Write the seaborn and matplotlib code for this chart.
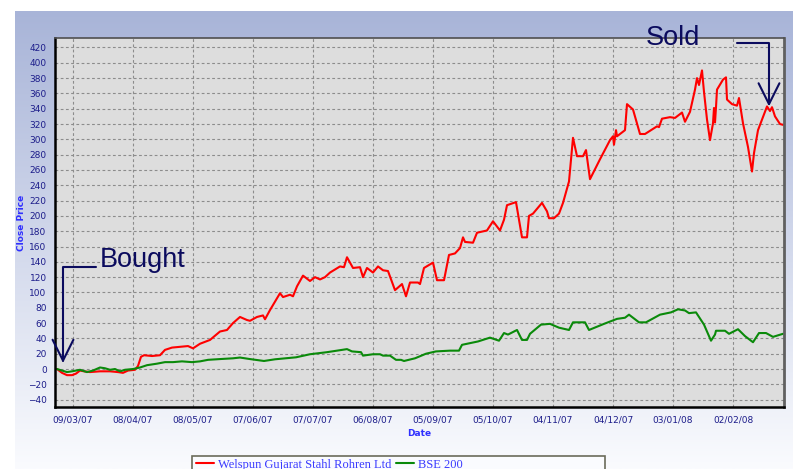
import numpy as np
import pandas as pd
import matplotlib
matplotlib.use("Agg")
import matplotlib.pyplot as plt
import matplotlib.dates as mdates
from matplotlib.patches import Rectangle
from matplotlib.ticker import AutoMinorLocator, FixedLocator
import seaborn as sns

# Data (days counted from start_date)
start_date = "2007-03-01"

welspun_days = [0, 2.5, 5, 7.5, 9.5, 11.5, 13.5, 16.5, 21.5, 26.5, 30.5, 33, 35.5, 39, 40.5, 42, 43.5,
                47.5, 51.5, 54, 57.5, 61.5, 65.5, 68, 71.5, 76.5, 81.5, 85, 88, 91.5, 95, 96.5, 100,
                103, 104, 106.5, 109, 111.5, 113, 116.5, 118, 120, 123, 126.5, 129, 131.5, 134, 136.5,
                139, 141.5, 143.5, 145, 148, 151.5, 153, 155, 158, 160.5, 163, 165.5, 169, 172.5, 174.5,
                176.5, 180.5, 181.5, 183.5, 188, 190, 193.5, 196, 199, 201.5, 203, 204, 208, 210, 215,
                218, 221.5, 223.5, 225, 229.5, 232.5, 235, 236, 238, 242.5, 245, 246, 248.5, 251, 253,
                256, 258, 260, 263, 264.5, 266.5, 271.5, 276.5, 278, 278.5, 279.5, 280, 284, 285, 288,
                291.5, 294, 300, 301, 302.5, 306.5, 309, 312.5, 314, 316.5, 319, 320, 321, 322.5, 323.5,
                325, 326.5, 328, 328.5, 329, 329.5, 330, 333, 334.5, 335, 337.5, 340, 341, 343, 345.5,
                347.5, 348.5, 350.5, 355, 356.5, 357.5, 359, 361.5, 363]
welspun_close = [0, -5, -8, -8, -6, -2, -3, -4, -3, -3, -4, -5, -2, -1, 4, 16, 18,
                 17, 18, 25, 28, 29, 30, 27, 33, 38, 49, 51, 60, 68, 64, 63, 68,
                 70, 65, 77, 88, 99, 94, 97, 95, 108, 122, 115, 120, 117, 120, 126,
                 130, 134, 133, 146, 132, 133, 120, 132, 126, 134, 129, 128, 103, 111, 95,
                 113, 113, 111, 132, 139, 116, 116, 149, 151, 158, 172, 166, 165, 178, 181,
                 193, 181, 195, 214, 218, 172, 172, 200, 203, 217, 206, 197, 197, 203, 217,
                 245, 302, 278, 278, 286, 248, 274, 299, 304, 293, 312, 304, 312, 346, 339,
                 307, 307, 317, 316, 327, 329, 328, 335, 323, 336, 365, 380, 371, 390, 362,
                 326, 299, 321, 341, 322, 342, 365, 378, 381, 352, 346, 344, 354, 321, 290,
                 258, 282, 312, 343, 337, 342, 330, 320, 319]

bse_days = [0, 2.5, 5, 7.5, 11.5, 15, 18, 21.5, 24, 26.5, 29, 31.5, 34, 38, 41.5, 45, 50, 54, 58,
            62.5, 67.5, 71.5, 75.5, 81.5, 88, 91.5, 96.5, 103.5, 109, 119.5, 126.5, 135, 145, 147.5,
            152, 153, 158, 161.5, 163, 166.5, 169.5, 172, 173.5, 179, 184.5, 189.5, 196.5, 201,
            202.5, 210.5, 216.5, 221, 223.5, 225.5, 230, 232.5, 235, 236.5, 242, 246.5, 251, 256,
            258, 264, 266, 273.5, 280, 284, 286, 291, 294.5, 301.5, 307, 310.5, 314, 316, 319.5,
            323.5, 327, 329, 329.5, 334, 336, 340.5, 344, 348, 351, 354.5, 358, 363]
bse_close = [0, -2, -4, -3, -1, -4, -2, 2, 1, -1, 0, -3, -1, 0, 2, 5, 7, 9, 9,
             10, 9, 10, 12, 13, 14, 15, 13, 10.5, 12.7, 15.3, 19.3, 22, 26, 23,
             22, 17.5, 19.3, 19.3, 17.5, 17.5, 12, 12, 10.5, 14, 20, 23, 24, 24,
             31.6, 36, 41, 37, 47, 45, 51, 38, 38, 46, 58, 59, 54, 51,
             61, 61, 51, 59, 65.5, 67, 71, 61, 61, 71, 74, 78, 76.5, 73, 74,
             58, 37, 45, 50, 50, 46, 52, 43, 35, 47, 47, 42, 46]

date_ticks = ["09/03/07", "08/04/07", "08/05/07", "07/06/07", "07/07/07", "06/08/07",
              "05/09/07", "05/10/07", "04/11/07", "04/12/07", "03/01/08", "02/02/08"]
y_ticks = list(range(-40, 421, 20))

buy_date, buy_value = "2007-03-04", 8
sell_date, sell_value = "2008-02-20", 343

sns.set_style("white")
plt.rcParams["font.family"] = ["DejaVu Sans"]

start = pd.Timestamp(start_date)
welspun = pd.DataFrame({"Date": start + pd.to_timedelta(welspun_days, unit="D"),
                        "Close": welspun_close})
bse = pd.DataFrame({"Date": start + pd.to_timedelta(bse_days, unit="D"),
                    "Close": bse_close})

W, H = 793, 469
fig = plt.figure(figsize=(W / 100, H / 100), dpi=100)
fig.patch.set_facecolor("white")

# blue-to-white backdrop behind the chart
bg = fig.add_axes([15 / W, 0, 1 - 15 / W, 1 - 11 / H], zorder=-2)
top_c = np.array([168, 180, 216]) / 255
bot_c = np.array([250, 251, 254]) / 255
t = np.linspace(0, 1, 256)[:, None]
grad = top_c * (1 - t) + bot_c * t
bg.imshow(grad[:, None, :], aspect="auto", extent=[0, 1, 0, 1])
bg.axis("off")

ax = fig.add_axes([55 / W, 1 - 407.3 / H, 729 / W, 369 / H])
ax.set_facecolor("#dddddd")

sns.lineplot(data=welspun, x="Date", y="Close", color="#ff0000", lw=1.5,
             label="Welspun Gujarat Stahl Rohren Ltd", errorbar=None, ax=ax)
sns.lineplot(data=bse, x="Date", y="Close", color="#0a8a0a", lw=1.5,
             label="BSE 200", errorbar=None, ax=ax)

ax.set_xlim(start - pd.Timedelta(days=1), start + pd.Timedelta(days=363.5))
ax.set_ylim(-50, 432)

tick_dates = pd.to_datetime(date_ticks, format="%d/%m/%y")
ax.set_xticks(mdates.date2num(tick_dates))
ax.set_xticklabels(date_ticks)
ax.xaxis.set_minor_locator(FixedLocator(mdates.date2num(tick_dates + pd.Timedelta(days=15))))
ax.set_yticks(y_ticks)
ax.yaxis.set_minor_locator(AutoMinorLocator(4))

ax.grid(True, which="major", color="#8c8c8c", linestyle=(0, (2.5, 2.2)), linewidth=0.8)
ax.set_axisbelow(True)

ax.tick_params(which="major", colors="#ff0000", labelcolor="#1c1c8a", labelsize=6.5,
               direction="out", length=4, width=1, pad=2)
ax.tick_params(which="minor", direction="in", length=2.5, width=1, color="black")

ax.set_ylabel("Close Price", fontsize=6.5, fontweight="bold", color="#2f2fff", labelpad=1)
ax.set_xlabel("Date", fontsize=6.5, fontweight="bold", color="#2f2fff", labelpad=3)

for side in ["left", "bottom"]:
    ax.spines[side].set_color("black")
    ax.spines[side].set_linewidth(1.8)
ax.spines["top"].set_color("#505050")
ax.spines["top"].set_linewidth(1.2)
ax.spines["right"].set_color("#606060")
ax.spines["right"].set_linewidth(2)

# Bought / Sold call-outs
ink = "#0b0b5e"
arrow = dict(arrowstyle="->,head_length=1.5,head_width=0.75",
             connectionstyle="angle,angleA=0,angleB=90,rad=0",
             color=ink, lw=1.5, shrinkA=0, shrinkB=0, mutation_scale=10)
buy_xy = (mdates.date2num(pd.Timestamp(buy_date)), buy_value)
sell_xy = (mdates.date2num(pd.Timestamp(sell_date)), sell_value)

ax.annotate("", xy=buy_xy, xytext=(24, 69), textcoords="offset points",
            arrowprops=arrow, annotation_clip=False)
ax.annotate("Bought", xy=buy_xy, xytext=(26.6, 69), textcoords="offset points",
            fontsize=19.5, family="Liberation Sans", color=ink, ha="left", va="baseline")
ax.annotate("", xy=sell_xy, xytext=(-23, 46), textcoords="offset points",
            arrowprops=arrow, annotation_clip=False)
ax.annotate("Sold", xy=sell_xy, xytext=(-88.6, 43.9), textcoords="offset points",
            fontsize=19.5, family="Liberation Sans", color=ink, ha="left", va="baseline",
            zorder=6)

# legend box, partly cut off at the bottom edge
handles, labels = ax.get_legend_handles_labels()
if ax.get_legend() is not None:
    ax.get_legend().remove()
fig.add_artist(Rectangle((192 / W, -0.02), 413 / W, (469 - 456) / H + 0.02,
                         transform=fig.transFigure, facecolor="#fafbfe",
                         edgecolor="#6b6b5a", lw=1.2))
fig.legend(handles, labels, loc="center left", bbox_to_anchor=(196 / W, 1 - 464.5 / H),
           ncol=2, frameon=False, prop={"family": "Liberation Serif", "size": 9},
           labelcolor="#3a3aff", handlelength=1.45, handletextpad=0.3,
           columnspacing=0.4, borderpad=0, borderaxespad=0)

fig.savefig("out.png", dpi=100)
plt.close(fig)
